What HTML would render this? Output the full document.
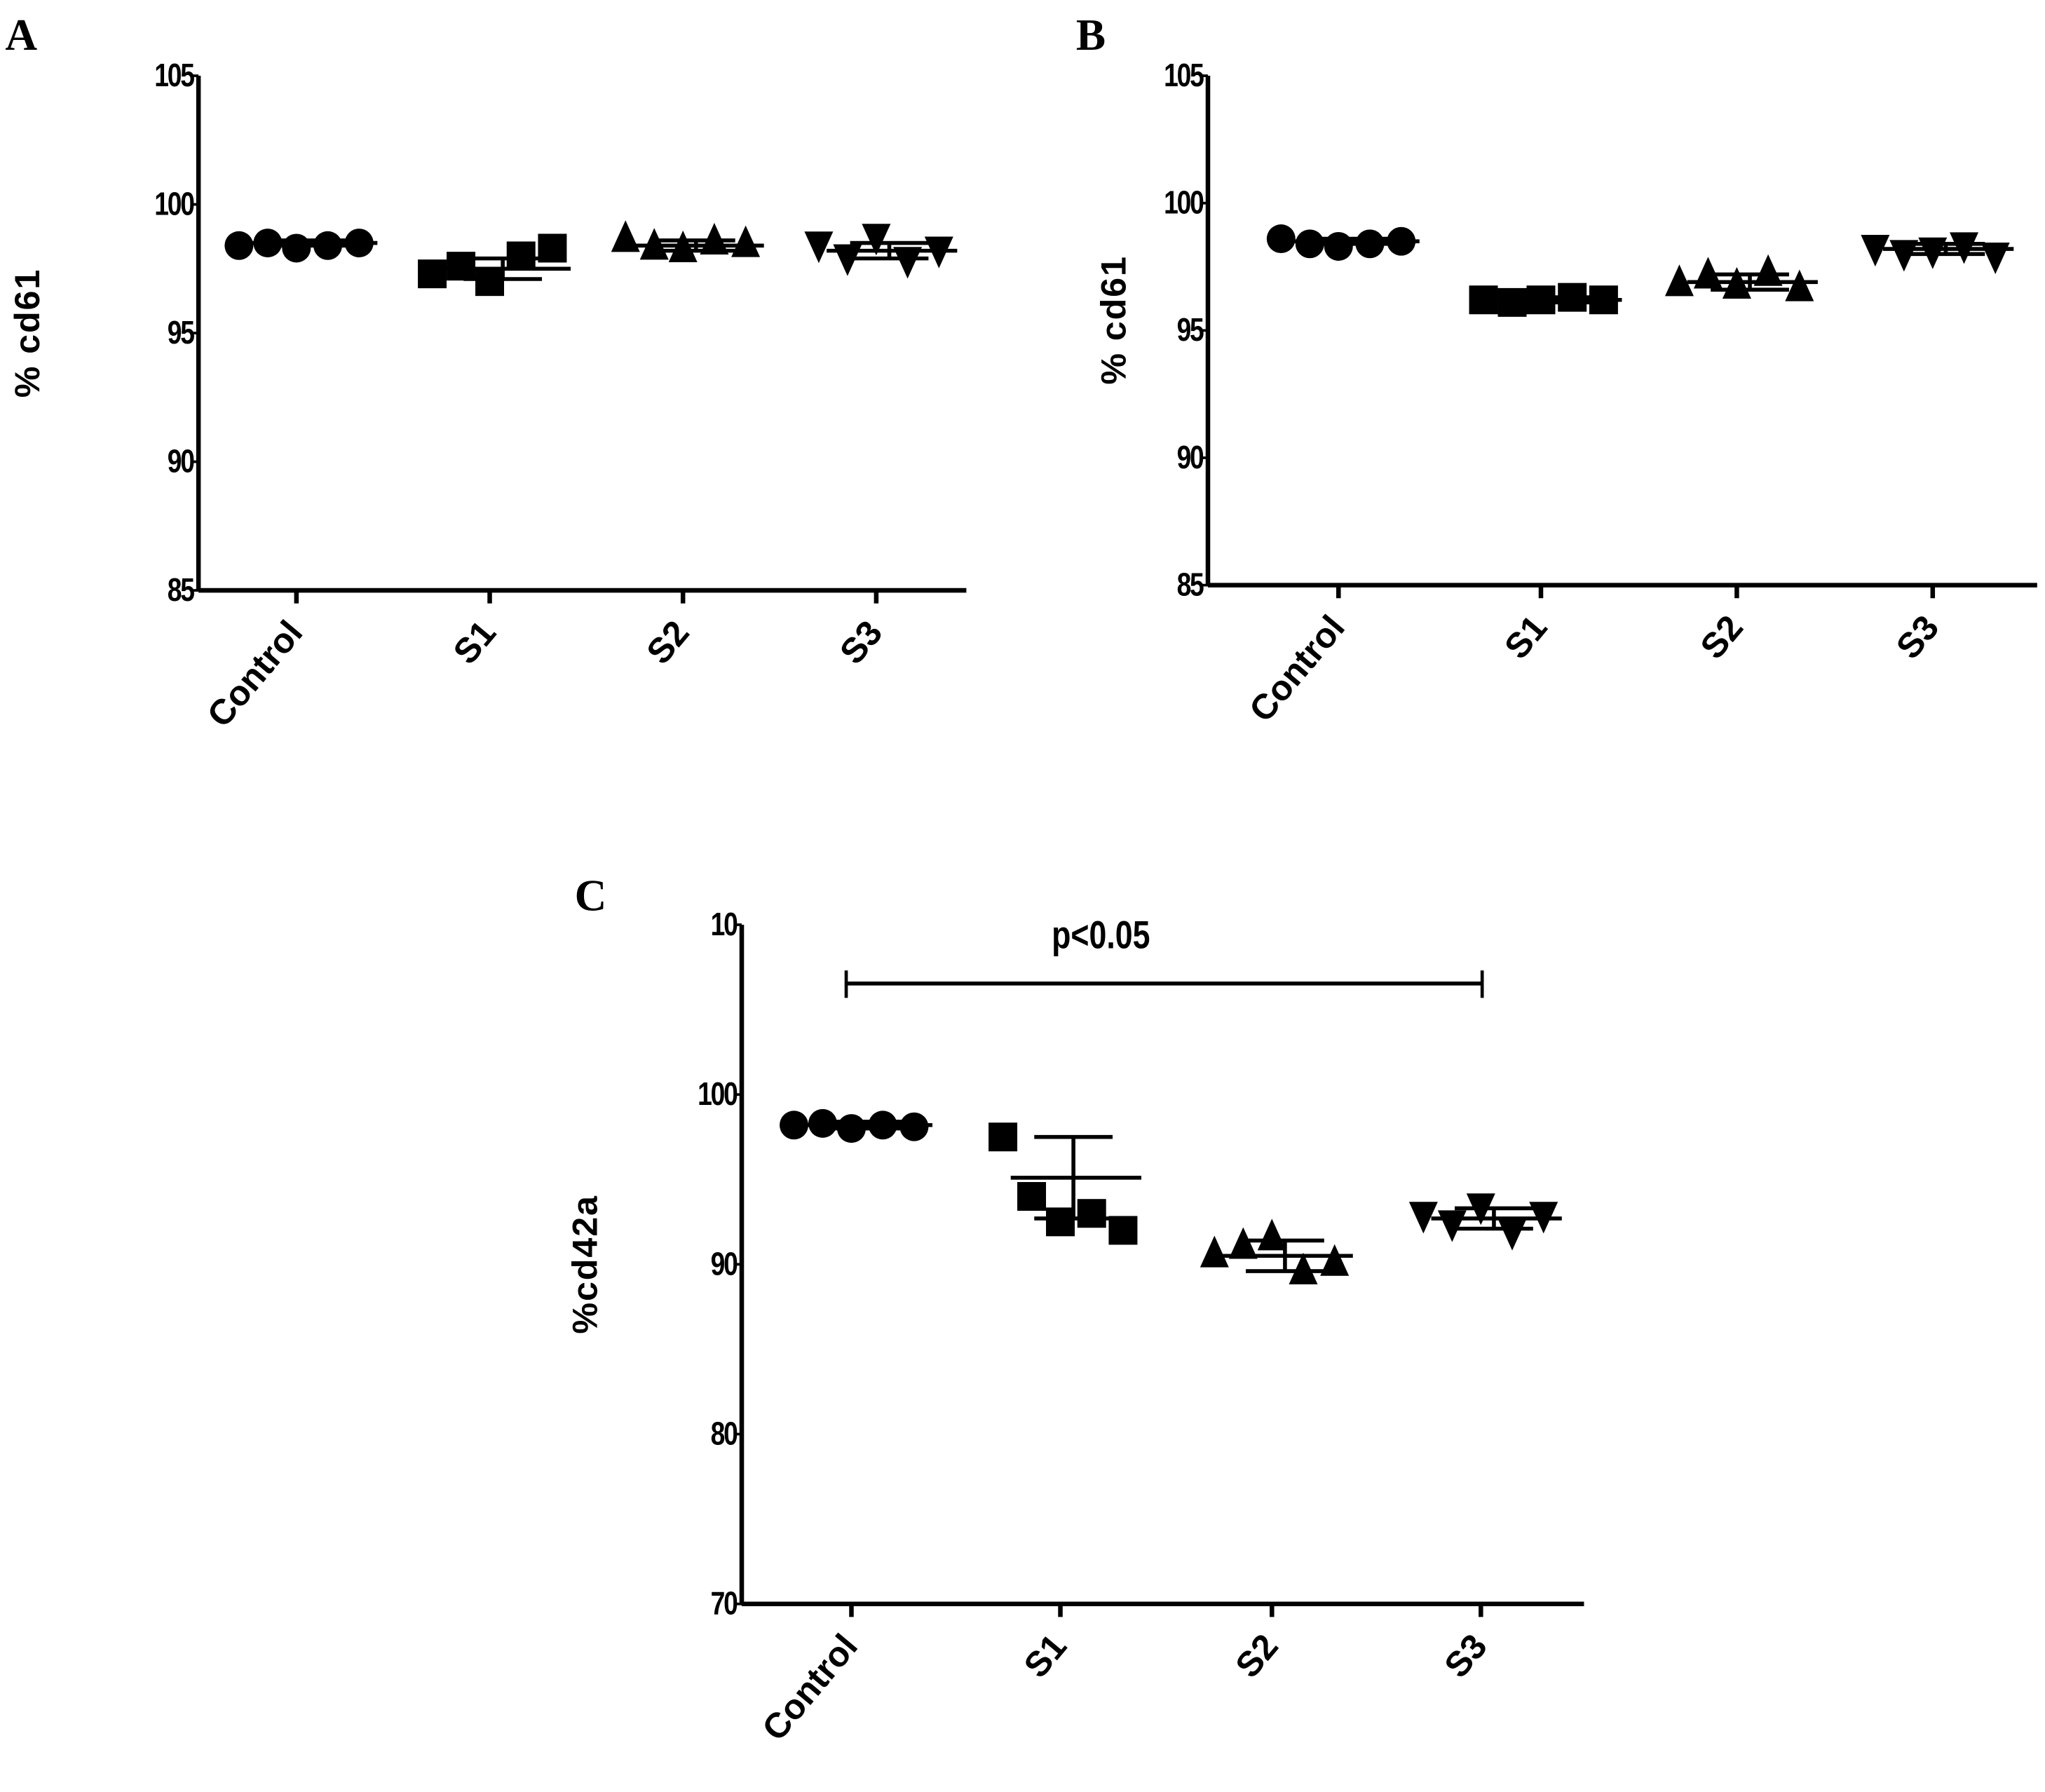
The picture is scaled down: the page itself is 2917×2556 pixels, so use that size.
<!DOCTYPE html>
<html><head><meta charset="utf-8"><style>
html,body{margin:0;padding:0;background:#fff;}
svg{display:block;}
text{font-family:"Liberation Sans",sans-serif;font-weight:bold;fill:#000;}
</style></head><body>
<svg id="fig" width="2917" height="2556" viewBox="0 0 1566 1372" preserveAspectRatio="none" xmlns="http://www.w3.org/2000/svg">
<text x="4" y="38" font-size="34" style="font-family:'Liberation Serif',serif">A</text>
<text x="824" y="38" font-size="34" style="font-family:'Liberation Serif',serif">B</text>
<text x="440" y="697" font-size="34" style="font-family:'Liberation Serif',serif">C</text>
</svg>
<script>
const categories = ["Control","S1","S2","S3"];
const markerShapes = ["circle","square","triangle","invtriangle"];
const ticksAB = [85,90,95,100,105];
const ticksC = [70,80,90,100,110];
const tickLabelsC = ["70","80","90","100","10"];
const aValues = [[98.4,98.5,98.3,98.4,98.5],[97.3,97.6,97.0,98.0,98.3],[98.6,98.3,98.2,98.5,98.4],[98.5,98.0,98.8,97.9,98.3]];
const aMeans = [98.5,97.5,98.4,98.2];
const aSd = [0.1,0.4,0.2,0.3];
const bValues = [[98.6,98.4,98.3,98.4,98.5],[96.2,96.1,96.2,96.3,96.2],[96.8,97.1,96.7,97.2,96.6],[98.3,98.1,98.2,98.4,98.0]];
const bMeans = [98.5,96.2,96.9,98.2];
const bSd = [0.1,0.1,0.3,0.2];
const cValues = [[98.2,98.3,98.0,98.2,98.1],[97.5,94.0,92.5,93.0,92.0],[90.5,91.0,91.5,89.5,90.0],[93.0,92.5,93.5,92.0,93.0]];
const cMeans = [98.2,95.1,90.5,92.7];
const cSd = [0.2,2.4,0.9,0.6];

const svg = document.getElementById('fig');
const NS = "http://www.w3.org/2000/svg";
function el(tag, attrs, parent){const e=document.createElementNS(NS,tag);for(const k in attrs)e.setAttribute(k,attrs[k]);(parent||svg).appendChild(e);return e;}

function panel(cfg){
  const g = el('g',{});
  
  
  const y = v => cfg.y0 + (v - cfg.vmin)/(cfg.vmax - cfg.vmin)*(cfg.y1 - cfg.y0);
  const x = i => cfg.cx[i];
  const yaxis = el('line',{x1:cfg.ax,y1:y(cfg.vmax),x2:cfg.ax,y2:y(cfg.vmin),stroke:'#000','stroke-width':3.5},g);
  
  
  const xaxis = el('line',{x1:cfg.ax,y1:y(cfg.vmin),x2:cfg.axEnd,y2:y(cfg.vmin),stroke:'#000','stroke-width':3.5},g);
  
  
  cfg.ticks.forEach((t,i)=>{
    el('line',{x1:cfg.ax-6,y1:y(t),x2:cfg.ax,y2:y(t),stroke:'#000','stroke-width':2},g);
    const tx = cfg.ax-4;
    const tl = el('text',{x:tx,y:y(t)+8,'font-size':25,'text-anchor':'end','letter-spacing':-1.5,transform:`translate(${tx},0) scale(0.8,1) translate(${-tx},0)`},g);
    tl.textContent = cfg.tickLabels ? cfg.tickLabels[i] : t;
    
    
  });
  categories.forEach((c,i)=>{
    el('line',{x1:x(i),y1:y(cfg.vmin),x2:x(i),y2:y(cfg.vmin)+10,stroke:'#000','stroke-width':3.5},g);
    const lx = x(i)+6, ly = y(cfg.vmin)+33;
    const cl = el('text',{x:lx,y:ly,'font-size':27,'text-anchor':'end',transform:`rotate(-50 ${lx} ${ly})`},g);
    cl.textContent = c;
    
    
  });
  const yt = el('text',{x:0,y:0,'font-size':27,'text-anchor':'middle','letter-spacing':1,transform:`translate(${cfg.titleX},${cfg.titleY}) rotate(-90)`},g);
  yt.textContent = cfg.title;
  
  
  const offs = [-44,-22,0,24,48];
  const s = 11;
  categories.forEach((c,i)=>{
    cfg.values[i].forEach((v,j)=>{
      const px = x(i)+offs[j], py = y(v);
      let m;
      const sh = markerShapes[i];
      if(sh==='circle') m = el('circle',{cx:px,cy:py,r:s},g);
      else if(sh==='square') m = el('rect',{x:px-s,y:py-s,width:2*s,height:2*s},g);
      else if(sh==='triangle') m = el('polygon',{points:`${px},${py-s*1.4} ${px-s},${py+s*0.8} ${px+s},${py+s*0.8}`},g);
      else m = el('polygon',{points:`${px},${py+s*1.4} ${px-s},${py-s*0.8} ${px+s},${py-s*0.8}`},g);
      m.setAttribute('fill','#000');
      
      
    });
    const mx = x(i)+10;
    const ml = el('line',{x1:mx-48,y1:y(cfg.means[i]),x2:mx+52,y2:y(cfg.means[i]),stroke:'#000','stroke-width':3},g);
    
    
    const hi = cfg.means[i]+cfg.sd[i], lo = cfg.means[i]-cfg.sd[i];
    el('line',{x1:mx,y1:y(hi),x2:mx,y2:y(lo),stroke:'#000','stroke-width':3},g);
    el('line',{x1:mx-30,y1:y(hi),x2:mx+30,y2:y(hi),stroke:'#000','stroke-width':3},g);
    el('line',{x1:mx-30,y1:y(lo),x2:mx+30,y2:y(lo),stroke:'#000','stroke-width':3},g);
  });
  return {g,y,x};
}

panel({name:'panel-a-chart',ax:152,axEnd:740,y0:452,y1:58,vmin:85,vmax:105,ticks:ticksAB,cx:[227,375,523,671],values:aValues,means:aMeans,sd:aSd,title:'% cd61',titleX:30,titleY:255});
panel({name:'panel-b-chart',ax:925,axEnd:1560,y0:448,y1:58,vmin:85,vmax:105,ticks:ticksAB,cx:[1025,1180,1330,1480],values:bValues,means:bMeans,sd:bSd,title:'% cd61',titleX:862,titleY:245});
panel({name:'panel-c-chart',ax:568,axEnd:1213,y0:1228,y1:708,vmin:70,vmax:110,ticks:ticksC,tickLabels:tickLabelsC,cx:[652,812,974,1134],values:cValues,means:cMeans,sd:cSd,title:'%cd42a',titleX:457,titleY:968});
const br = el('line',{x1:648,y1:753,x2:1135,y2:753,stroke:'#000','stroke-width':3});


el('line',{x1:648,y1:743,x2:648,y2:764,stroke:'#000','stroke-width':2.5});
el('line',{x1:1135,y1:743,x2:1135,y2:764,stroke:'#000','stroke-width':2.5});
const pt = el('text',{x:843,y:726,'font-size':30,'text-anchor':'middle','font-weight':'normal',transform:'translate(843,0) scale(0.8,1) translate(-843,0)'});
pt.textContent = 'p<0.05';


</script>
</body></html>
